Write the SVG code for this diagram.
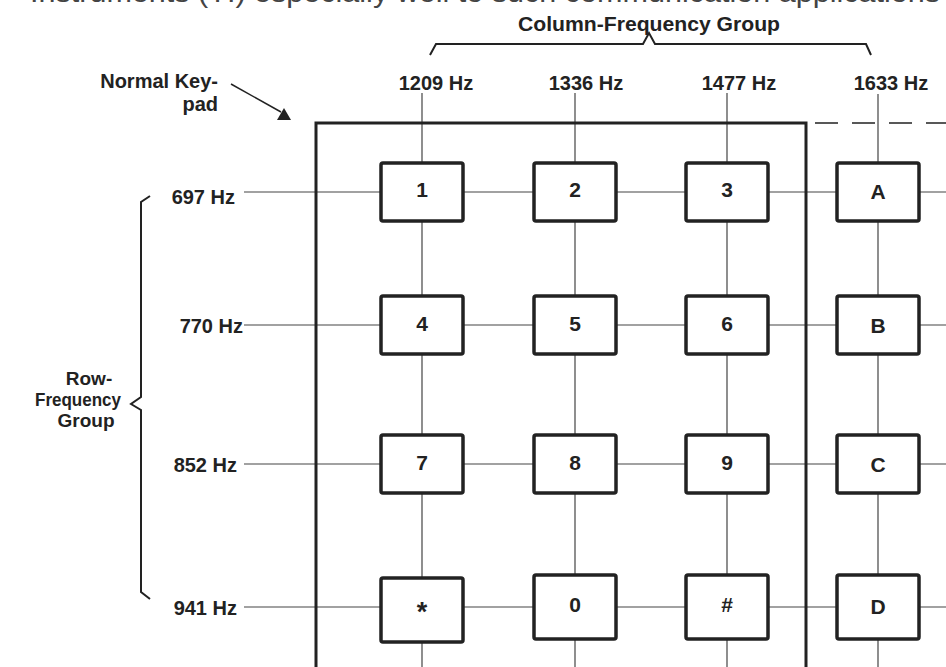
<svg xmlns="http://www.w3.org/2000/svg" width="946" height="667" viewBox="0 0 946 667">
<style>
text{font-family:"Liberation Sans",Arial,sans-serif;font-weight:bold;font-size:20px;fill:#222}
.grid{stroke:#444;stroke-width:1.2;fill:none}
.key rect{fill:#fff;stroke:#222;stroke-width:3.5}
.key text{text-anchor:middle;font-size:21px}
.brace{stroke:#222;stroke-width:2;fill:none}
.col text{text-anchor:middle}
.row text{text-anchor:end}
.grp{font-size:19px;text-anchor:middle}
</style>
<defs/>
<text x="30" y="2" textLength="910" lengthAdjust="spacingAndGlyphs" style="font-weight:normal;font-size:28px;fill:#444">Instruments (TI) especially well to such communication applications</text>
<g id="connectors">
<line class="grid" x1="422" y1="93" x2="422" y2="667"/>
<line class="grid" x1="575" y1="93" x2="575" y2="667"/>
<line class="grid" x1="727" y1="93" x2="727" y2="667"/>
<line class="grid" x1="878" y1="94" x2="878" y2="667"/>
<line class="grid" x1="244" y1="192" x2="946" y2="192"/>
<line class="grid" x1="244" y1="325" x2="946" y2="325"/>
<line class="grid" x1="244" y1="464" x2="946" y2="464"/>
<line class="grid" x1="244" y1="607" x2="946" y2="607"/>
<line x1="231" y1="84" x2="281" y2="112" stroke="#222" stroke-width="1.5"/>
<polygon points="284,108 277,120 291,120" fill="#222"/>
</g>
<g id="keypad-frame">
<path d="M316,670 L316,123 L806,123 L806,670" fill="none" stroke="#222" stroke-width="3"/>
<line x1="815" y1="123" x2="946" y2="123" stroke="#222" stroke-width="1.5" stroke-dasharray="23 14"/>
</g>
<g id="column-brace">
<path class="brace" d="M430,55 L436,44 L643,44 L649,33 L655,44 L866,44 L871,55"/>
<text x="649" y="31" text-anchor="middle" textLength="262" lengthAdjust="spacingAndGlyphs">Column-Frequency Group</text>
</g>
<g id="row-brace">
<path class="brace" d="M150,196 L141,202 L141,397 L131,404 L141,410 L141,592 L150,599"/>
<text class="grp" x="89" y="385">Row-</text>
<text class="grp" x="78" y="406" textLength="86" lengthAdjust="spacingAndGlyphs">Frequency</text>
<text class="grp" x="86" y="427">Group</text>
</g>
<g id="keypad-label">
<text x="218" y="88" text-anchor="end">Normal Key-</text>
<text x="218" y="111" text-anchor="end">pad</text>
</g>
<g class="col" id="column-labels">
<text x="436" y="90">1209 Hz</text>
<text x="586" y="90">1336 Hz</text>
<text x="739" y="90">1477 Hz</text>
<text x="891" y="90">1633 Hz</text>
</g>
<g class="row" id="row-labels">
<text x="235" y="204">697 Hz</text>
<text x="243" y="333">770 Hz</text>
<text x="237" y="472">852 Hz</text>
<text x="237" y="615">941 Hz</text>
</g>
<g class="key" id="key-1"><rect x="381" y="163" width="82" height="58" rx="2"/><text x="422" y="197">1</text></g>
<g class="key" id="key-2"><rect x="534" y="163" width="82" height="58" rx="2"/><text x="575" y="197">2</text></g>
<g class="key" id="key-3"><rect x="686" y="163" width="82" height="58" rx="2"/><text x="727" y="197">3</text></g>
<g class="key" id="key-A"><rect x="837" y="163" width="82" height="58" rx="2"/><text x="878" y="199">A</text></g>
<g class="key" id="key-4"><rect x="381" y="296" width="82" height="58" rx="2"/><text x="422" y="331">4</text></g>
<g class="key" id="key-5"><rect x="534" y="296" width="82" height="58" rx="2"/><text x="575" y="331">5</text></g>
<g class="key" id="key-6"><rect x="686" y="296" width="82" height="58" rx="2"/><text x="727" y="331">6</text></g>
<g class="key" id="key-B"><rect x="837" y="296" width="82" height="58" rx="2"/><text x="878" y="333">B</text></g>
<g class="key" id="key-7"><rect x="381" y="435" width="82" height="58" rx="2"/><text x="422" y="470">7</text></g>
<g class="key" id="key-8"><rect x="534" y="435" width="82" height="58" rx="2"/><text x="575" y="470">8</text></g>
<g class="key" id="key-9"><rect x="686" y="435" width="82" height="58" rx="2"/><text x="727" y="470">9</text></g>
<g class="key" id="key-C"><rect x="837" y="435" width="82" height="58" rx="2"/><text x="878" y="472">C</text></g>
<g class="key" id="key-star"><rect x="381" y="578" width="82" height="64" rx="2"/><text x="422" y="621" style="font-size:27px">*</text></g>
<g class="key" id="key-0"><rect x="534" y="575" width="82" height="64" rx="2"/><text x="575" y="612">0</text></g>
<g class="key" id="key-hash"><rect x="686" y="575" width="82" height="64" rx="2"/><text x="727" y="612">#</text></g>
<g class="key" id="key-D"><rect x="837" y="575" width="82" height="64" rx="2"/><text x="878" y="614">D</text></g>
</svg>
